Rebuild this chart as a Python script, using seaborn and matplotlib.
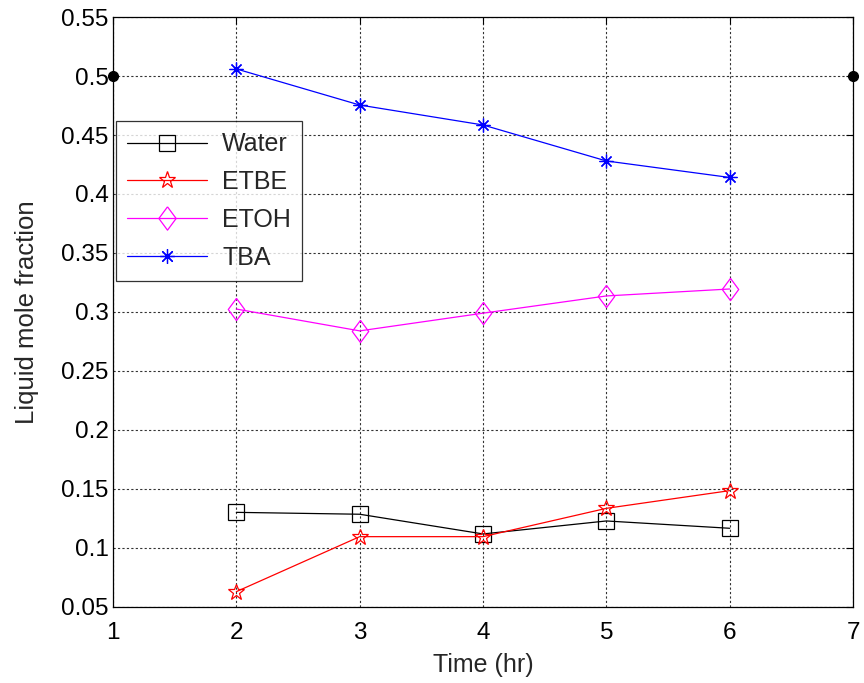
import matplotlib
matplotlib.use("Agg")
import matplotlib.pyplot as plt
import seaborn as sns
import pandas as pd
import numpy as np
from matplotlib.ticker import FuncFormatter

time_hr = [2, 3, 4, 5, 6]
water = [0.1302, 0.1286, 0.1119, 0.1229, 0.1167]
etbe = [0.0630, 0.1096, 0.1096, 0.1336, 0.1486]
etoh = [0.3025, 0.2840, 0.2990, 0.3136, 0.3195]
tba = [0.5060, 0.4754, 0.4585, 0.4280, 0.4140]
ref_x = [1, 7]
ref_y = [0.5, 0.5]

series_names = ["Water", "ETBE", "ETOH", "TBA"]
series_vals = [water, etbe, etoh, tba]
colors = ["black", "red", "magenta", "blue"]
diamond = [(0, 1), (0.74, 0), (0, -1), (-0.74, 0), (0, 1)]
markers = ["s", "*", diamond, (8, 2, 0)]
msizes = [11.5, 12, 16, 10]

sns.set_style("white")
plt.rcParams['font.family'] = ['Liberation Sans', 'DejaVu Sans']

fig = plt.figure(figsize=(8.64, 6.83), dpi=100)
ax = fig.add_axes([0.1308, 0.1113, 0.9873 - 0.1308, 0.9751 - 0.1113])

for name, vals, c, m, ms in zip(series_names, series_vals, colors, markers, msizes):
    df = pd.DataFrame({"Time": time_hr, "val": vals})
    sns.lineplot(data=df, x="Time", y="val", ax=ax, color=c, marker=m,
                 markersize=ms, markerfacecolor="none", markeredgecolor=c,
                 markeredgewidth=0.9, linewidth=0.9, label=name)

ax.plot(ref_x, ref_y, linestyle="none", marker="o", color="black",
        markersize=7, clip_on=False, zorder=5)

ax.set_xlim(1, 7)
ax.set_ylim(0.05, 0.55)
ax.set_xticks(np.arange(1, 8, 1))
ax.set_yticks(np.arange(0.05, 0.5501, 0.05))
ax.yaxis.set_major_formatter(FuncFormatter(lambda v, p: f"{v:g}"))
ax.xaxis.set_major_formatter(FuncFormatter(lambda v, p: f"{v:g}"))

ax.grid(True, color="0.2", linestyle=(0, (2, 2)), linewidth=0.8)
for s in ax.spines.values():
    s.set_color("black")
    s.set_linewidth(0.9)
ax.tick_params(direction="in", length=5, width=0.8, top=True, right=True,
               labelsize=17.5, colors="black")
ax.tick_params(axis="x", pad=11)
ax.tick_params(axis="y", pad=3)

ax.set_xlabel("Time (hr)", fontsize=18, labelpad=6)
ax.set_ylabel("Liquid mole fraction", fontsize=18.5, labelpad=16)

leg = ax.legend(loc="upper left", bbox_to_anchor=(0.004, 0.8237), fontsize=18,
                handlelength=3.2, handletextpad=0.6, borderpad=0.45,
                labelspacing=0.55, frameon=True, fancybox=False,
                borderaxespad=0, markerscale=1.05)
leg.get_frame().set_edgecolor("black")
leg.get_frame().set_linewidth(0.9)

fig.savefig("out.png", dpi=100)
